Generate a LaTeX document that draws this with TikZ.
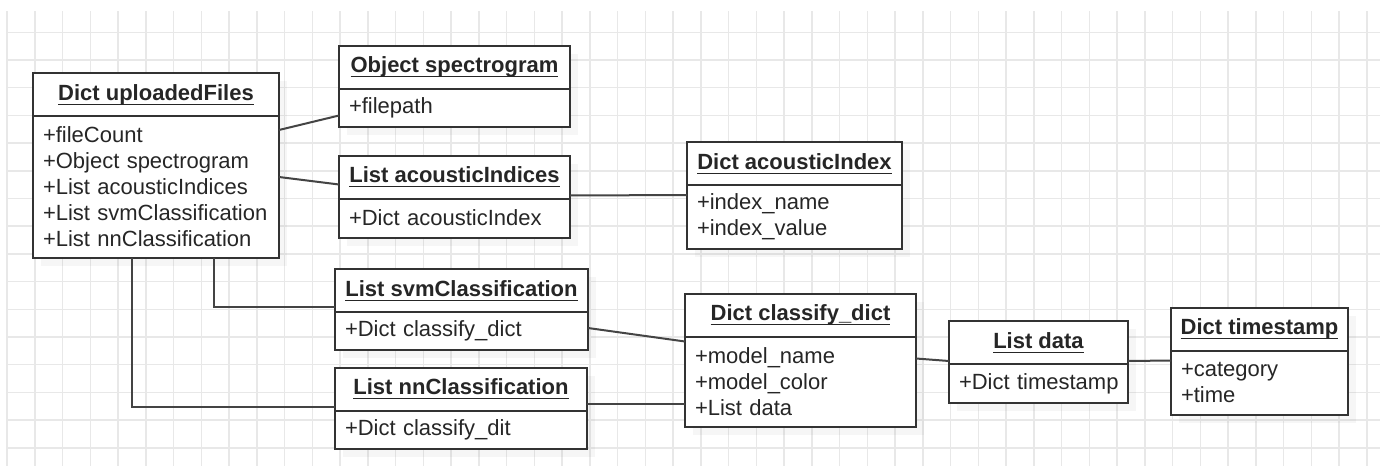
\documentclass[tikz,border=0pt]{standalone}
\usepackage{fontspec}
\setmainfont{Liberation Sans}
\usepackage{tikz}
\usetikzlibrary{positioning,calc,shadows}
\usepackage{xcolor}
\definecolor{boxline}{RGB}{51,51,51}
\definecolor{linkgray}{RGB}{68,68,68}
\definecolor{textgray}{RGB}{38,38,38}
\definecolor{gridgray}{RGB}{232,232,232}
% underlined class name
\newcommand{\clsname}[1]{\setbox0\hbox{#1}\rlap{\rule[-2.4pt]{\wd0}{0.6pt}}#1}

\begin{document}
\begin{tikzpicture}[x=0.5pt, y=-0.5pt,
  every node/.style={font=\fontsize{11pt}{13pt}\selectfont, text=textgray},
  head/.style={draw=boxline, line width=1pt, fill=white, inner sep=0pt, outer sep=0pt,
    minimum height=21.5pt, font=\fontsize{11pt}{13pt}\selectfont\bfseries,
    drop shadow={shadow xshift=4pt, shadow yshift=-4pt, opacity=0.07}},
  attrs/.style={draw=boxline, line width=1pt, fill=white, outer sep=0pt,
    align=left, inner xsep=5pt, inner ysep=0pt,
    drop shadow={shadow xshift=4pt, shadow yshift=-4pt, opacity=0.07}},
  link/.style={linkgray, line width=1pt}]
  \useasboundingbox (0,0) rectangle (1380,466);
  % grid
  \foreach \gx in {0,...,49}
    \draw[gridgray, line width=0.75pt] (7+27.75*\gx,11) -- (7+27.75*\gx,466);
  \foreach \gy in {0,...,15}
    \draw[gridgray, line width=0.75pt] (7,32.3+27.7*\gy) -- (1380,32.3+27.7*\gy);

  % classes
  \node[head, minimum width=123pt] (At) at (156,94.5) {\clsname{Dict uploadedFiles}};
  \node[attrs, below=0pt of At, text width=113pt, minimum height=71pt] (Ab)
    {+fileCount\\+Object spectrogram\\+List acousticIndices\\+List svmClassification\\+List nnClassification};

  \node[head, minimum width=115.5pt] (Bt) at (454.5,67) {\clsname{Object spectrogram}};
  \node[attrs, below=0pt of Bt, text width=105.5pt, minimum height=19pt] (Bb) {+filepath};

  \node[head, minimum width=115.5pt] (Ct) at (454.5,177) {\clsname{List acousticIndices}};
  \node[attrs, below=0pt of Ct, text width=105.5pt, minimum height=19.5pt] (Cb) {+Dict acousticIndex};

  \node[head, minimum width=107.5pt] (Dt) at (794.5,163.5) {\clsname{Dict acousticIndex}};
  \node[attrs, below=0pt of Dt, text width=97.5pt, minimum height=32pt] (Db)
    {+index\_name\\+index\_value};

  \node[head, minimum width=126.5pt] (Et) at (461.5,290.5) {\clsname{List svmClassification}};
  \node[attrs, below=0pt of Et, text width=116.5pt, minimum height=19pt] (Eb) {+Dict classify\_dict};

  \node[head, minimum width=126pt] (Ft) at (461,389) {\clsname{List nnClassification}};
  \node[attrs, below=0pt of Ft, text width=116pt, minimum height=19pt] (Fb) {+Dict classify\_dit};

  \node[head, minimum width=115.5pt] (Gt) at (800.5,315) {\clsname{Dict classify\_dict}};
  \node[attrs, below=0pt of Gt, text width=105.5pt, minimum height=45pt] (Gb)
    {+model\_name\\+model\_color\\+List data};

  \node[head, minimum width=89.5pt] (Ht) at (1038.5,342.5) {\clsname{List data}};
  \node[attrs, below=0pt of Ht, text width=79.5pt, minimum height=19.5pt] (Hb) {\mbox{+Dict timestamp}};

  \node[head, minimum width=88.5pt] (It) at (1259.5,329) {\clsname{Dict timestamp}};
  \node[attrs, below=0pt of It, text width=78.5pt, minimum height=32pt] (Ib) {+category\\+time};

  % links
  \draw[link] ($(Ab.north east)+(0,14)$) -- ($(Bb.north west)+(0,27)$);
  \draw[link] ($(Ab.north east)+(0,61)$) -- ($(Ct.south west)+(0,-14)$);
  \draw[link] ($(Ct.south east)+(0,-3)$) -- ($(Db.north west)+(0,10)$);
  \draw[link] ($(Ab.south west)+(181,0)$) |- ($(Et.south west)+(0,-5)$);
  \draw[link] ($(Ab.south west)+(99,0)$) |- ($(Ft.south west)+(0,-4)$);
  \draw[link] ($(Eb.north east)+(0,16)$) -- ($(Gb.north west)+(0,5)$);
  \draw[link] ($(Ft.south east)+(0,-7)$) -- ($(Gb.north west)+(0,67)$);
  \draw[link] ($(Gb.north east)+(0,22)$) -- ($(Ht.south west)+(0,-3)$);
  \draw[link] ($(Ht.south east)+(0,-3)$) -- ($(Ib.north west)+(0,10)$);
\end{tikzpicture}
\end{document}
